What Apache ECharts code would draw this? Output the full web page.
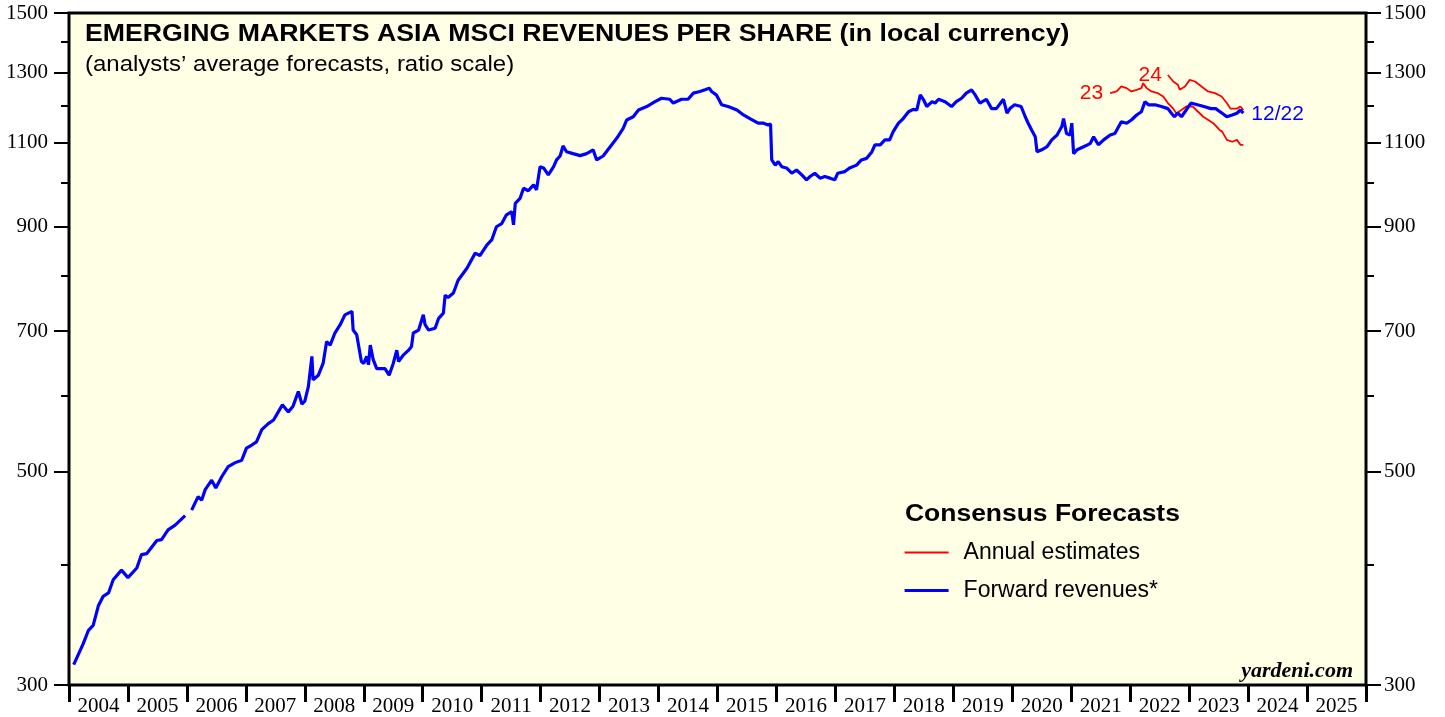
<!DOCTYPE html>
<html>
<head>
<meta charset="utf-8">
<title>Emerging Markets Asia MSCI Revenues Per Share</title>
<script src="https://cdn.jsdelivr.net/npm/echarts@6/dist/echarts.min.js"></script>
<style>
  html, body { margin: 0; padding: 0; background: #fff; }
  #chart { width: 1445px; height: 717px; }
</style>
</head>
<body>
<div id="chart"></div>
<script>
// dates are decimal years, values are revenues per share (local currency)
const yearLabels = ['2004', '2005', '2006', '2007', '2008', '2009', '2010', '2011', '2012', '2013', '2014',
  '2015', '2016', '2017', '2018', '2019', '2020', '2021', '2022', '2023', '2024', '2025'];
const majorTicks = [300, 500, 700, 900, 1100, 1300, 1500];
const minorTicks = [400, 600, 800, 1000, 1200, 1400];

// forward revenues (blue); '-' is the gap in early 2006
const fwdDates = [
  2004.08, 2004.24, 2004.33, 2004.41, 2004.50, 2004.58, 2004.67, 2004.75, 2004.89,
  2005.00, 2005.15, 2005.23, 2005.32, 2005.49, 2005.57, 2005.68, 2005.80, 2005.97,
  2006.02, 2006.08, 2006.19, 2006.25, 2006.31, 2006.42, 2006.49, 2006.59, 2006.70, 2006.82, 2006.93,
  2007.01, 2007.10, 2007.18, 2007.27, 2007.38, 2007.47, 2007.55, 2007.62, 2007.72, 2007.80, 2007.89, 2007.95,
  2008.00, 2008.06, 2008.12, 2008.14, 2008.23, 2008.31, 2008.37, 2008.43, 2008.51, 2008.60, 2008.68, 2008.74, 2008.80, 2008.82, 2008.88, 2008.96,
  2009.00, 2009.05, 2009.08, 2009.11, 2009.16, 2009.22, 2009.25, 2009.30, 2009.36, 2009.43, 2009.50, 2009.56, 2009.59, 2009.67, 2009.76, 2009.81, 2009.84, 2009.93,
  2010.01, 2010.04, 2010.10, 2010.21, 2010.27, 2010.35, 2010.38, 2010.43, 2010.52, 2010.60, 2010.75, 2010.89, 2010.97,
  2011.09, 2011.17, 2011.25, 2011.34, 2011.42, 2011.51, 2011.54, 2011.57, 2011.65, 2011.71, 2011.79, 2011.88, 2011.93, 2011.99,
  2012.05, 2012.13, 2012.22, 2012.27, 2012.33, 2012.38, 2012.44, 2012.55, 2012.67, 2012.78, 2012.89, 2012.95,
  2013.06, 2013.18, 2013.29, 2013.40, 2013.46, 2013.57, 2013.66, 2013.80, 2013.94,
  2014.05, 2014.19, 2014.25, 2014.39, 2014.50, 2014.59, 2014.70, 2014.79, 2014.86, 2014.90, 2014.98,
  2015.07, 2015.18, 2015.33, 2015.44, 2015.55, 2015.69, 2015.78, 2015.86, 2015.90, 2015.92, 2015.98,
  2016.03, 2016.09, 2016.17, 2016.26, 2016.34, 2016.43, 2016.51, 2016.57, 2016.65, 2016.74, 2016.82, 2016.91, 2016.99,
  2017.04, 2017.16, 2017.24, 2017.36, 2017.44, 2017.53, 2017.62, 2017.67, 2017.76, 2017.84, 2017.92, 2017.98,
  2018.07, 2018.15, 2018.24, 2018.32, 2018.38, 2018.44, 2018.49, 2018.55, 2018.64, 2018.69, 2018.75, 2018.86, 2018.97,
  2019.05, 2019.14, 2019.22, 2019.31, 2019.37, 2019.45, 2019.56, 2019.65, 2019.73, 2019.85, 2019.91, 2019.96,
  2020.04, 2020.15, 2020.22, 2020.27, 2020.33, 2020.36, 2020.39, 2020.42, 2020.50, 2020.59, 2020.67, 2020.76, 2020.84, 2020.87, 2020.92, 2020.98,
  2021.01, 2021.04, 2021.10, 2021.21, 2021.32, 2021.38, 2021.46, 2021.55, 2021.66, 2021.74, 2021.85, 2021.94,
  2022.02, 2022.11, 2022.19, 2022.25, 2022.31, 2022.42, 2022.53, 2022.64, 2022.70, 2022.75, 2022.81, 2022.87, 2022.95,
  2023.03, 2023.14, 2023.25, 2023.37, 2023.45, 2023.56, 2023.64, 2023.73, 2023.81, 2023.87, 2023.92
];
const fwdValues = [
  315, 331, 342, 346, 363, 371, 374, 386, 395,
  388, 397, 410, 411, 424, 425, 435, 440, 450,
  '-', 456, 471, 467, 479, 490, 481, 494, 506, 511, 514,
  529, 533, 537, 553, 561, 566, 577, 587, 577, 585, 606, 588,
  592, 613, 659, 623, 630, 648, 683, 677, 697, 711, 728, 731, 734, 702, 694, 651,
  648, 659, 646, 677, 654, 640, 638, 640, 640, 630, 648, 669, 651, 661, 669, 675, 697, 702,
  728, 711, 702, 705, 722, 731, 763, 759, 767, 791, 814, 844, 839,
  861, 871, 899, 906, 925, 932, 903, 951, 962, 986, 980, 994, 982, 1038,
  1035, 1018, 1038, 1055, 1065, 1091, 1076, 1071, 1066, 1071, 1081, 1055,
  1065, 1089, 1111, 1138, 1161, 1170, 1189, 1199, 1213,
  1223, 1220, 1209, 1220, 1220, 1238, 1243, 1248, 1253, 1243, 1233,
  1204, 1199, 1189, 1175, 1165, 1152, 1152, 1147, 1150, 1055, 1042,
  1051, 1038, 1035, 1022, 1030, 1018, 1006, 1014, 1022, 1010, 1014, 1010, 1006,
  1022, 1026, 1035, 1042, 1055, 1059, 1076, 1094, 1094, 1107, 1107, 1129,
  1152, 1165, 1184, 1191, 1189, 1233, 1220, 1199, 1213, 1209, 1220, 1213, 1199,
  1213, 1223, 1238, 1248, 1233, 1209, 1220, 1193, 1193, 1220, 1180, 1193,
  1204, 1199, 1170, 1152, 1133, 1138, 1115, 1076, 1081, 1089, 1107, 1120, 1143, 1165, 1124, 1120,
  1152, 1071, 1081, 1089, 1097, 1115, 1094, 1107, 1120, 1124, 1156, 1152,
  1161, 1175, 1184, 1213, 1204, 1204, 1199, 1193, 1180, 1170, 1180, 1170, 1189,
  1209, 1204, 1199, 1193, 1193, 1180, 1170, 1175, 1180, 1189, 1180
];

// annual estimates for 2023 and 2024 (red)
const est23Dates = [2021.66, 2021.77, 2021.85, 2021.94, 2022.02, 2022.11, 2022.19, 2022.22, 2022.28, 2022.36,
  2022.47, 2022.56, 2022.64, 2022.73, 2022.78, 2022.87, 2022.95, 2023.06, 2023.24, 2023.41,
  2023.52, 2023.56, 2023.64, 2023.73, 2023.81, 2023.87, 2023.92];
const est23Values = [1238, 1243, 1258, 1253, 1243, 1248, 1253, 1268, 1253, 1243,
  1238, 1228, 1209, 1193, 1180, 1189, 1199, 1199, 1170, 1152,
  1133, 1129, 1107, 1102, 1107, 1094, 1094];
const est24Dates = [2022.64, 2022.73, 2022.81, 2022.84, 2022.93, 2023.01, 2023.10, 2023.21, 2023.32, 2023.44,
  2023.55, 2023.64, 2023.70, 2023.81, 2023.87, 2023.92];
const est24Values = [1293, 1273, 1263, 1248, 1258, 1278, 1273, 1258, 1243, 1238,
  1228, 1209, 1193, 1193, 1199, 1189];

const pairs = (xs, ys) => xs.map((x, i) => [x, ys[i]]);

const sans = 'Liberation Sans, Arial, sans-serif';
const serif = 'Liberation Serif, Times New Roman, serif';

function yAxis(position, margin) {
  return [
    {
      type: 'log', logBase: 10, min: 300, max: 1500, position: position,
      axisLine: { show: false },
      axisTick: { show: true, customValues: majorTicks, length: 15, lineStyle: { color: '#000', width: 2 } },
      axisLabel: {
        show: true, customValues: majorTicks, margin: margin,
        fontFamily: serif, fontSize: 21, color: '#000',
        formatter: v => String(Math.round(v))
      },
      splitLine: { show: false }
    },
    {
      type: 'log', logBase: 10, min: 300, max: 1500, position: position,
      axisLine: { show: false },
      axisTick: { show: true, customValues: minorTicks, length: 8, lineStyle: { color: '#000', width: 2 } },
      axisLabel: { show: false },
      splitLine: { show: false }
    }
  ];
}

const chart = echarts.init(document.getElementById('chart'));
chart.setOption({
  animation: false,
  backgroundColor: '#fff',
  grid: {
    left: 69, right: 79, top: 13, bottom: 32, outerBoundsMode: 'none',
    show: true, backgroundColor: '#FFFFE5', borderColor: '#000', borderWidth: 3
  },
  xAxis: [
    { type: 'value', min: 2004, max: 2026, show: false },
    {
      type: 'category', data: yearLabels, position: 'bottom', boundaryGap: true,
      axisLine: { show: false },
      axisTick: { show: true, length: 17, lineStyle: { color: '#000', width: 3 } },
      axisLabel: { margin: 11, fontFamily: serif, fontSize: 21, color: '#000' },
      splitLine: { show: false }
    }
  ],
  yAxis: yAxis('left', 21).concat(yAxis('right', 18)),
  legend: {
    orient: 'vertical', left: 903, top: 541, padding: 0,
    itemWidth: 44, itemHeight: 8, itemGap: 15,
    itemStyle: { opacity: 0 },
    data: [
      { name: 'Annual estimates', lineStyle: { width: 1.8 } },
      { name: 'Forward revenues*', lineStyle: { width: 3.2 } }
    ],
    textStyle: { fontFamily: sans, fontSize: 23, color: '#000', padding: [0, 0, 0, 10] },
    selectedMode: false
  },
  series: [
    {
      name: 'Annual estimates', type: 'line', data: pairs(est23Dates, est23Values),
      xAxisIndex: 0, yAxisIndex: 0, showSymbol: false, symbol: 'none',
      lineStyle: { color: '#FF0000', width: 1.8 }, itemStyle: { color: '#FF0000' }, silent: true,
      markPoint: {
        symbol: 'circle', symbolSize: 0, silent: true,
        data: [{ coord: [est23Dates[0], est23Values[0]] }],
        label: { show: true, position: 'left', distance: 7, formatter: '23', color: '#FF0000', fontFamily: sans, fontSize: 21 }
      }
    },
    {
      name: 'Annual estimates', type: 'line', data: pairs(est24Dates, est24Values),
      xAxisIndex: 0, yAxisIndex: 0, showSymbol: false, symbol: 'none',
      lineStyle: { color: '#FF0000', width: 1.8 }, itemStyle: { color: '#FF0000' }, silent: true,
      markPoint: {
        symbol: 'circle', symbolSize: 0, silent: true,
        data: [{ coord: [est24Dates[0], est24Values[0]] }],
        label: { show: true, position: 'left', distance: 6, formatter: '24', color: '#FF0000', fontFamily: sans, fontSize: 21 }
      }
    },
    {
      name: 'Forward revenues*', type: 'line', data: pairs(fwdDates, fwdValues),
      xAxisIndex: 0, yAxisIndex: 0, showSymbol: false, symbol: 'none', connectNulls: false,
      lineStyle: { color: '#0000FF', width: 3.2 }, itemStyle: { color: '#0000FF' }, silent: true,
      endLabel: { show: true, formatter: '12/22', distance: 8, offset: [0, 1], color: '#0000FF', fontFamily: sans, fontSize: 21 }
    }
  ],
  graphic: [
    {
      type: 'text', x: 85, y: 35, scaleX: 1.16, silent: true,
      style: {
        text: 'EMERGING MARKETS ASIA MSCI REVENUES PER SHARE (in local currency)',
        font: 'bold 23px ' + sans, fill: '#000', align: 'left', verticalAlign: 'middle'
      }
    },
    {
      type: 'text', x: 85, y: 65, scaleX: 1.09, silent: true,
      style: {
        text: '(analysts\u2019 average forecasts, ratio scale)',
        font: '22px ' + sans, fill: '#000', align: 'left', verticalAlign: 'middle'
      }
    },
    {
      type: 'text', x: 905, y: 515, scaleX: 1.15, silent: true,
      style: { text: 'Consensus Forecasts', font: 'bold 23px ' + sans, fill: '#000', align: 'left', verticalAlign: 'middle' }
    },
    {
      type: 'text', x: 1353, y: 671, silent: true,
      style: { text: 'yardeni.com', font: 'italic bold 22px ' + serif, fill: '#000', align: 'right', verticalAlign: 'middle' }
    }
  ]
});
</script>
</body>
</html>
